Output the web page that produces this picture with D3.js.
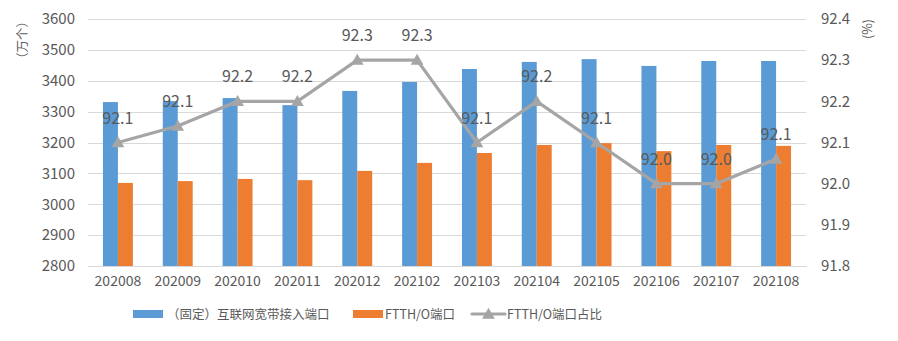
<!DOCTYPE html>
<html>
<head>
<meta charset="utf-8">
<script src="https://cdn.jsdelivr.net/npm/d3@7"></script>
<style>
  html, body { margin: 0; padding: 0; background: #fff; }
  svg { display: block; }
  text { font-family: "Noto Sans CJK SC", "DejaVu Sans", sans-serif; fill: #595959; }
</style>
</head>
<body>
<svg id="chart" width="898" height="341"></svg>
<script>
// Monthly port counts (10k units) and FTTH/O share (%)
const months = ["202008","202009","202010","202011","202012","202102","202103","202104","202105","202106","202107","202108"];
const broadbandPorts = [3331, 3334, 3344, 3321, 3367, 3396, 3438, 3461, 3470, 3448, 3464, 3464];
const ftthPorts      = [3069, 3075, 3082, 3078, 3108, 3134, 3166, 3192, 3198, 3172, 3192, 3189];
const ftthShare      = [92.10, 92.14, 92.20, 92.20, 92.30, 92.30, 92.10, 92.20, 92.10, 92.00, 92.00, 92.06];
const leftTicks  = [2800, 2900, 3000, 3100, 3200, 3300, 3400, 3500, 3600];
const rightTicks = [91.8, 91.9, 92.0, 92.1, 92.2, 92.3, 92.4];
const seriesNames = ["（固定）互联网宽带接入端口", "FTTH/O端口", "FTTH/O端口占比"];
const colors = ["#5B9BD5", "#ED7D31", "#A5A5A5"];

const svg = d3.select("#chart");
const plot = { left: 88, right: 806, top: 19, bottom: 266 };

const x = d3.scaleBand().domain(months).range([plot.left, plot.right]).paddingInner(0).paddingOuter(0);
const yL = d3.scaleLinear().domain([2800, 3600]).range([plot.bottom, plot.top]);
const yR = d3.scaleLinear().domain([91.8, 92.4]).range([plot.bottom, plot.top]);
const half = x.bandwidth() * 0.25;
const xSub = d3.scaleBand().domain(["a", "b"]).range([-half, half]);

// Gridlines from the left axis
const gridAxis = d3.axisLeft(yL).tickValues(leftTicks).tickSize(-(plot.right - plot.left)).tickFormat("");
svg.append("g").attr("transform", `translate(${plot.left},0)`).call(gridAxis)
  .call(g => g.select(".domain").remove())
  .call(g => g.selectAll("line").attr("stroke", "#d9d9d9").attr("stroke-width", 1).attr("shape-rendering", "crispEdges"));

// Left tick labels
const leftAxis = d3.axisLeft(yL).tickValues(leftTicks).tickSize(0).tickPadding(13).tickFormat(d3.format("d"));
svg.append("g").attr("transform", `translate(${plot.left},0)`).call(leftAxis)
  .call(g => g.select(".domain").remove())
  .call(g => g.selectAll("text").attr("font-size", 15).attr("fill", "#595959").style("font-family", null));

// Right tick labels
const rightAxis = d3.axisRight(yR).tickValues(rightTicks).tickSize(0).tickPadding(15).tickFormat(d3.format(".1f"));
svg.append("g").attr("transform", `translate(${plot.right},0)`).call(rightAxis)
  .call(g => g.select(".domain").remove())
  .call(g => g.selectAll("text").attr("font-size", 15).attr("fill", "#595959").style("font-family", null));

// Bottom category axis
const bottomAxis = d3.axisBottom(x).tickSize(0).tickPadding(10);
svg.append("g").attr("transform", `translate(0,${plot.bottom})`).call(bottomAxis)
  .call(g => g.select(".domain").attr("stroke", "#d9d9d9").attr("shape-rendering", "crispEdges"))
  .call(g => g.selectAll("text").attr("font-size", 14).attr("fill", "#595959").style("font-family", null));

// Bars
const cx = m => x(m) + x.bandwidth() / 2;
svg.append("g").selectAll("rect").data(months).join("rect")
  .attr("x", m => cx(m) + xSub("a"))
  .attr("width", xSub.bandwidth())
  .attr("y", (m, i) => yL(broadbandPorts[i]))
  .attr("height", (m, i) => yL(2800) - yL(broadbandPorts[i]))
  .attr("fill", colors[0]);
svg.append("g").selectAll("rect").data(months).join("rect")
  .attr("x", m => cx(m) + xSub("b"))
  .attr("width", xSub.bandwidth())
  .attr("y", (m, i) => yL(ftthPorts[i]))
  .attr("height", (m, i) => yL(2800) - yL(ftthPorts[i]))
  .attr("fill", colors[1]);

// Share line with triangle markers
const pts = months.map((m, i) => [cx(m), yR(ftthShare[i]), ftthShare[i]]);
svg.append("path").datum(pts)
  .attr("d", d3.line().x(d => d[0]).y(d => d[1]))
  .attr("fill", "none").attr("stroke", colors[2]).attr("stroke-width", 3.2).attr("stroke-linejoin", "round");
const tri = d3.symbol().type(d3.symbolTriangle).size(70);
svg.append("g").selectAll("path").data(pts).join("path")
  .attr("transform", d => `translate(${d[0]},${d[1] + 1})`)
  .attr("d", tri).attr("fill", colors[2]);

// Data labels
svg.append("g").selectAll("text").data(pts).join("text")
  .attr("x", d => d[0]).attr("y", d => d[1] - 19)
  .attr("text-anchor", "middle").attr("font-size", 16)
  .text(d => d[2].toFixed(1));

// Axis titles
svg.append("text").attr("transform", "translate(27,40) rotate(-90)")
  .attr("text-anchor", "middle").attr("font-size", 12.5).text("（万个）");
svg.append("text").attr("transform", "translate(872,29) rotate(-90)")
  .attr("text-anchor", "middle").attr("font-size", 12.5).text("(%)");

// Legend
const legend = svg.append("g").attr("font-size", 12.5);
legend.append("rect").attr("x", 133).attr("y", 310).attr("width", 30).attr("height", 8).attr("fill", colors[0]);
legend.append("text").attr("x", 167).attr("y", 318.5).attr("font-size", 12.5).text(seriesNames[0]);
legend.append("rect").attr("x", 353).attr("y", 310).attr("width", 30).attr("height", 8).attr("fill", colors[1]);
legend.append("text").attr("x", 385).attr("y", 318.5).attr("font-size", 12.5).text(seriesNames[1]);
legend.append("line").attr("x1", 472).attr("x2", 505).attr("y1", 314).attr("y2", 314)
  .attr("stroke", colors[2]).attr("stroke-width", 3.2).attr("stroke-linecap", "round");
legend.append("path").attr("transform", "translate(488.5,315)").attr("d", tri).attr("fill", colors[2]);
legend.append("text").attr("x", 507).attr("y", 318.5).attr("font-size", 12.5).text(seriesNames[2]);
</script>
</body>
</html>
